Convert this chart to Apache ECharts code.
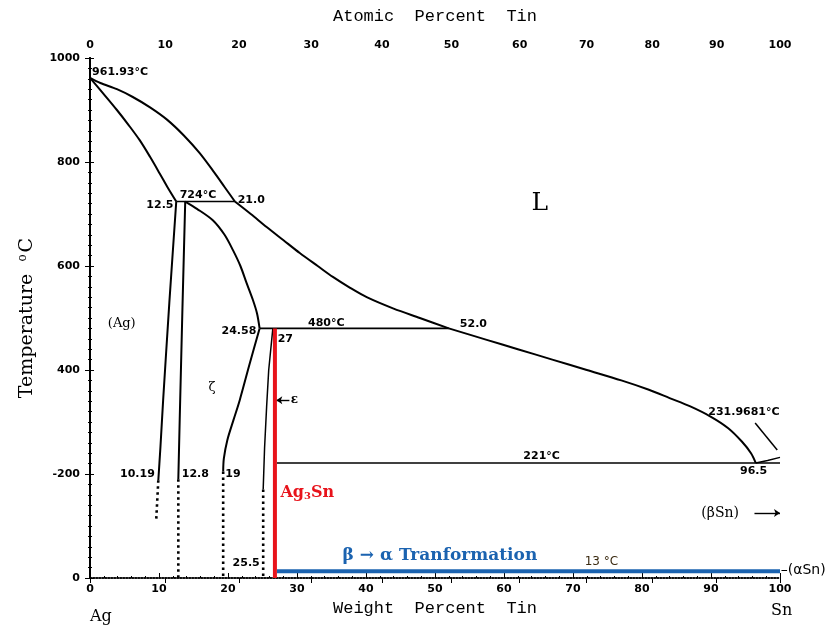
<!DOCTYPE html>
<html>
<head>
<meta charset="UTF-8">
<title>Ag-Sn phase diagram</title>
<style>
    html, body {
        margin: 0;
        padding: 0;
        background: #fff;
    }
    #chart {
        width: 837px;
        height: 626px;
    }
</style>
<script src="https://cdn.jsdelivr.net/npm/echarts@6.0.0/dist/echarts.min.js"></script>
</head>
<body>
<div id="chart"></div>
<script>
// ---- data (x = weight percent Sn, y = temperature in °C) ----
const weightTicks = [0, 10, 20, 30, 40, 50, 60, 70, 80, 90, 100];
const atomicTicks = [0, 10, 20, 30, 40, 50, 60, 70, 80, 90, 100];
const tempTicks = [0, 200, 400, 600, 800, 1000];
const tempTickLabels = ['0', '-200', '400', '600', '800', '1000'];

const liquidusAg = [[0, 961.93], [1.5, 952], [3.9, 940], [6.2, 925], [8.7, 905], [11.2, 881],
    [13.6, 851], [15.9, 817], [18, 780], [19.5, 752], [21.0, 724]];
const liquidusMid = [[21.0, 724], [23.3, 700], [25.6, 675], [28, 650], [30.4, 625], [33, 600],
    [35.2, 579], [37.7, 558], [40.1, 540], [44, 518], [47.8, 500], [52.0, 480]];
const liquidusSn = [[52.0, 480], [57.5, 458], [62, 440], [67, 420], [72, 400], [77, 380],
    [81, 362], [84, 346], [87, 330], [90, 310], [92.5, 288], [94.5, 262], [95.8, 240], [96.5, 221]];
const liquidusTin = [[96.5, 221], [98.2, 226], [100, 231.97]];
const leader231 = [[96.4, 298], [99.6, 246]];

const solidusAg = [[0, 961.93], [1.9, 932], [3.9, 900], [5.6, 871], [7.2, 842], [8.7, 810],
    [10.1, 778], [11.3, 750], [12.5, 724]];
const solvusAg = [[12.5, 724], [11.5, 530], [10.6, 342], [10.2, 250], [9.9, 188]];
const solvusAgDot = [[9.9, 188], [9.6, 112]];

const zetaLeft = [[13.8, 724], [13.4, 520], [13.0, 304], [12.8, 190]];
const zetaLeftDot = [[12.8, 190], [12.8, 0]];
const zetaSolidus = [[13.8, 724], [15.5, 710], [17.8, 688], [19.5, 660], [20.7, 631], [21.8, 600],
    [22.7, 567], [23.6, 535], [24.2, 509], [24.58, 480]];
const zetaRight = [[24.58, 480], [23.1, 410], [21.7, 342], [20.8, 304], [19.9, 265], [19.4, 230], [19.3, 205]];
const zetaRightDot = [[19.3, 205], [19.3, 0]];

const epsLeft = [[26.5, 480], [25.9, 400], [25.6, 330], [25.3, 250], [25.1, 170]];
const epsLeftDot = [[25.1, 170], [25.1, 0]];

const iso724 = [[12.5, 724], [21.0, 724]];
const iso480 = [[24.58, 480], [52.0, 480]];
const iso221 = [[27.1, 221], [100, 221]];

const ag3Sn = [[26.8, 480], [26.8, 0]];
const betaAlpha = [[27.1, 13], [100, 13]];

const arrowBetaSn = [[96.3, 125], [100, 125]];
const arrowEps = [[28.9, 342], [27.0, 342]];

// atomic masses used to place the top (atomic percent) axis
const massSn = 118.71;
const massAg = 107.87;

// ---- annotation anchors (data coords) ----
const notesLeft = [
    ['961.93°C', 0.3, 972], ['724°C', 13.0, 736], ['21.0', 21.4, 727], ['480°C', 31.6, 490],
    ['52.0', 53.6, 488], ['27', 27.2, 460], ['231.9681°C', 89.6, 319],
    ['221°C', 62.8, 235], ['96.5', 94.2, 206], ['12.8', 13.3, 200], ['19', 19.6, 200]
];
const notesRight = [['12.5', 12.1, 717], ['24.58', 24.1, 474], ['10.19', 9.4, 200], ['25.5', 24.6, 29]];
const notesCenter = [['(Ag)', 4.6, 490], ['ζ', 17.7, 366]];

const wtFromAt = a => a * massSn / (a * massSn + (100 - a) * massAg) * 100;
const atomicPos = atomicTicks.map(wtFromAt);

const ink = '#000';
const smallFont = 'DejaVu Sans';
const serif = 'DejaVu Serif';

function curve(data, opts) {
    opts = opts || {};
    return {
        type: 'line',
        data: data,
        symbol: 'none',
        smooth: opts.smooth || false,
        animation: false,
        silent: true,
        z: opts.z || 3,
        lineStyle: {
            color: opts.color || ink,
            width: opts.width || 2,
            type: opts.type || 'solid'
        }
    };
}

function dotted(data) {
    return curve(data, {type: [2.5, 3.5], width: 2.6});
}

function noteSeries(list, position, textStyle) {
    return {
        type: 'scatter',
        symbolSize: 0,
        clip: false,
        silent: true,
        animation: false,
        z: 10,
        itemStyle: {opacity: 1},
        data: list.map(n => ({value: [n[1], n[2]], name: n[0]})),
        label: Object.assign({
            show: true,
            position: position,
            distance: 0,
            formatter: p => p.name,
            color: ink,
            fontFamily: smallFont,
            fontWeight: 'bold',
            fontSize: 11
        }, textStyle || {})
    };
}

function arrow(data) {
    return {
        type: 'line',
        data: [],
        silent: true,
        animation: false,
        markLine: {
            silent: true,
            animation: false,
            symbol: ['none', 'arrow'],
            symbolSize: 6,
            label: {show: false},
            lineStyle: {color: ink, width: 1.4, type: 'solid'},
            data: [[{coord: data[0]}, {coord: data[1]}]]
        }
    };
}

let chart = echarts.init(document.getElementById('chart'), null, {renderer: 'canvas'});

let option = {
    animation: false,
    backgroundColor: '#fff',
    grid: {left: 90, right: 57, top: 58, bottom: 48},
    xAxis: [
        {
            type: 'value',
            position: 'bottom',
            min: 0, max: 100, interval: 10,
            axisLine: {lineStyle: {color: ink, width: 1.5, type: 'dotted'}},
            axisTick: {inside: true, length: 5, lineStyle: {color: ink}},
            minorTick: {show: true, splitNumber: 5, length: 2, lineStyle: {color: ink}},
            splitLine: {show: false},
            axisLabel: {
                margin: 6, color: ink, fontFamily: smallFont, fontSize: 11, fontWeight: 'bold',
                formatter: v => weightTicks.indexOf(v) >= 0 ? String(v) : ''
            },
            name: 'Weight  Percent  Tin',
            nameLocation: 'middle',
            nameGap: 21,
            nameTextStyle: {fontFamily: 'Liberation Mono', fontSize: 17, color: ink}
        },
        {
            type: 'value',
            position: 'top',
            min: 0, max: 100,
            axisLine: {lineStyle: {color: ink, width: 1.5, type: 'dotted'}},
            axisTick: {inside: true, length: 5, customValues: atomicPos, lineStyle: {color: ink}},
            splitLine: {show: false},
            axisLabel: {
                margin: 7, color: ink, fontFamily: smallFont, fontSize: 11, fontWeight: 'bold',
                customValues: atomicPos,
                formatter: v => {
                    let best = 0;
                    atomicPos.forEach((p, i) => {
                        if (Math.abs(p - v) < Math.abs(atomicPos[best] - v)) best = i;
                    });
                    return String(atomicTicks[best]);
                }
            },
            name: 'Atomic  Percent  Tin',
            nameLocation: 'middle',
            nameGap: 33,
            nameTextStyle: {fontFamily: 'Liberation Mono', fontSize: 17, color: ink}
        }
    ],
    yAxis: [
        {
            type: 'value',
            position: 'left',
            min: 0, max: 1000, interval: 200,
            axisLine: {show: true, lineStyle: {color: ink, width: 2}},
            axisTick: {show: true, length: 5, lineStyle: {color: ink}},
            minorTick: {show: true, splitNumber: 10, length: 2, lineStyle: {color: ink}},
            splitLine: {show: false},
            axisLabel: {
                margin: 10, color: ink, fontFamily: smallFont, fontSize: 11, fontWeight: 'bold',
                formatter: v => tempTickLabels[tempTicks.indexOf(v)]
            },
            name: 'Temperature  {s|o}C',
            nameLocation: 'middle',
            nameGap: 52,
            nameTextStyle: {
                fontFamily: serif, fontSize: 19, color: ink,
                rich: {s: {fontFamily: serif, fontSize: 12, color: ink, verticalAlign: 'top', padding: [0, 2, 9, 0]}}
            }
        },
        {
            type: 'value',
            position: 'right',
            min: 0, max: 1000, interval: 200,
            axisLine: {show: true, lineStyle: {color: ink, width: 2}},
            axisTick: {show: true, length: 4, lineStyle: {color: ink}},
            minorTick: {show: true, splitNumber: 10, length: 2, lineStyle: {color: ink}},
            splitLine: {show: false},
            axisLabel: {show: false}
        }
    ],
    series: [
        curve(liquidusAg, {smooth: 0.3}),
        curve(liquidusMid, {smooth: 0.3}),
        curve(liquidusSn, {smooth: 0.3}),
        curve(liquidusTin, {width: 1.5}),
        curve(leader231, {width: 1.5}),
        curve(solidusAg, {smooth: 0.3}),
        curve(solvusAg, {smooth: 0.2}),
        dotted(solvusAgDot),
        curve(zetaLeft),
        dotted(zetaLeftDot),
        curve(zetaSolidus, {smooth: 0.3}),
        curve(zetaRight, {smooth: 0.3}),
        dotted(zetaRightDot),
        curve(epsLeft, {width: 1.5}),
        dotted(epsLeftDot),
        curve(iso724, {width: 1.5}),
        curve(iso480, {width: 1.6}),
        curve(iso221, {width: 1.5}),
        curve(ag3Sn, {color: '#e8131b', width: 4, z: 5}),
        curve(betaAlpha, {color: '#1b63b0', width: 4, z: 5}),
        arrow(arrowBetaSn),
        arrow(arrowEps),
        noteSeries(notesLeft, 'right'),
        noteSeries(notesRight, 'left'),
        noteSeries(notesCenter, 'inside', {fontSize: 13, fontFamily: serif, fontWeight: 'normal'}),
        noteSeries([['ε', 29.1, 342]], 'right', {fontSize: 12, fontFamily: serif}),
        noteSeries([['L', 65.2, 721]], 'inside', {fontSize: 25, fontFamily: serif, fontWeight: 'normal'}),
        noteSeries([['Ag{b|3}Sn', 27.6, 163]], 'right', {
            fontSize: 16, fontFamily: serif, fontWeight: 'bold', color: '#e8131b',
            rich: {b: {fontSize: 10, fontFamily: serif, fontWeight: 'bold', color: '#e8131b', verticalAlign: 'bottom', padding: [6, 0, 0, 0]}}
        }),
        noteSeries([['β → α Tranformation', 36.6, 44]], 'right', {
            fontSize: 17, fontFamily: serif, fontWeight: 'bold', color: '#1b63b0'
        }),
        noteSeries([['13 °C', 71.7, 31]], 'right', {fontSize: 12, fontWeight: 'normal', color: '#3a2a10'}),
        noteSeries([['(βSn)', 88.6, 125]], 'right', {fontSize: 14, fontFamily: serif, fontWeight: 'normal'}),
        noteSeries([['–(αSn)', 100.1, 14]], 'right', {fontSize: 14, fontWeight: 'normal'})
    ],
    graphic: [
        {type: 'text', left: 90, top: 609, style: {text: 'Ag', font: '16px "DejaVu Serif"', fill: ink}},
        {type: 'text', left: 771, top: 603, style: {text: 'Sn', font: '16px "DejaVu Serif"', fill: ink}}
    ]
};

chart.setOption(option);
</script>
</body>
</html>
